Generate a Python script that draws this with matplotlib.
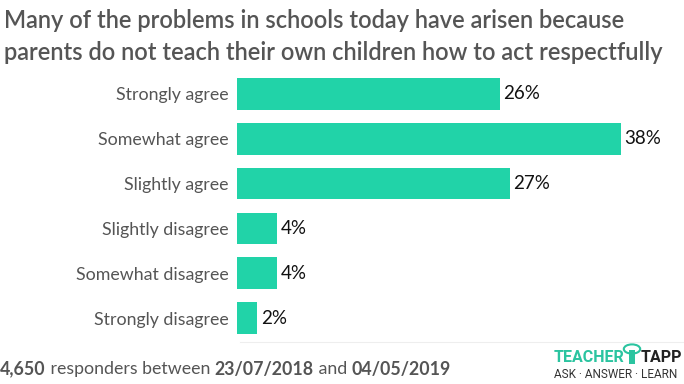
import matplotlib
matplotlib.use("Agg")
import matplotlib.pyplot as plt

# Chart data
categories = ["Strongly agree", "Somewhat agree", "Slightly agree",
              "Slightly disagree", "Somewhat disagree", "Strongly disagree"]
values = [26, 38, 27, 4, 4, 2]
value_labels = ["26%", "38%", "27%", "4%", "4%", "2%"]

title_lines = ["Many of the problems in schools today have arisen because",
               "parents do not teach their own children how to act respectfully"]
footer_parts = [("4,650", "bold"), (" responders between ", "normal"),
                ("23/07/2018", "bold"), (" and ", "normal"), ("04/05/2019", "bold")]

bar_color = "#21d3a8"
grey = "#555555"

plt.rcParams["font.family"] = ["Lato", "DejaVu Sans"]

fig = plt.figure(figsize=(6.84, 3.84), dpi=100)
W, H = 684, 384

# Title
for i, line in enumerate(title_lines):
    fig.text(4 / W, 1 - (21 + i * 31) / H, line, fontsize=17, color=grey,
             fontweight="semibold", va="center", ha="left")

# Bars
ax = fig.add_axes([237 / W, 1 - 340.5 / H, 1 - 237 / W, 269 / H])
y = list(range(len(categories)))
ax.barh(y, values, height=0.71, color=bar_color)
ax.set_xlim(0, 447 / 10.1)
ax.set_ylim(len(categories) - 0.5, -0.5)
ax.set_yticks(y)
ax.set_yticklabels(categories, fontsize=12.8, color=grey)
ax.tick_params(axis="y", length=0, pad=6)
ax.set_xticks([])
for s in ax.spines.values():
    s.set_visible(False)
for yi, v, lab in zip(y, values, value_labels):
    ax.text(v + 0.35, yi, lab, va="center", ha="left", fontsize=13.5, color="#111111")

# Footer
x = 0
r = fig.canvas.get_renderer()
for txt, w in footer_parts:
    t = fig.text(x / W, 1 - 369 / H, txt, fontsize=12.8, color=grey,
                 fontweight=w, va="center", ha="left")
    bb = t.get_window_extent(renderer=r)
    x += bb.width

# Faint separator line above logo
fig.add_artist(plt.Line2D([240 / W, 1], [1 - 342 / H, 1 - 342 / H], color="#eeeeee", lw=0.8))

# Logo
fig.text(554 / W, 1 - 357 / H, "TEACHER", fontsize=11.5, fontweight="bold",
         color="#2bc4a0", va="center", ha="left", family="Roboto")
fig.text(641 / W, 1 - 357 / H, "TAPP", fontsize=11.5, fontweight="bold",
         color="#222222", va="center", ha="left", family="Roboto")
fig.text(554 / W, 1 - 374 / H, "ASK · ANSWER · LEARN", fontsize=8.5,
         color="#333333", va="center", ha="left", family="Roboto")
fig.patches.append(matplotlib.patches.Circle((632 / W, 1 - 349 / H), 0.012,
                   transform=fig.transFigure, facecolor="none",
                   edgecolor="#2bc4a0", lw=1.5))
fig.patches.append(matplotlib.patches.Rectangle((629 / W, 1 - 364 / H), 6 / W, 14 / H,
                   transform=fig.transFigure, facecolor="#2bc4a0", edgecolor="none"))

fig.savefig("out.png", dpi=100, facecolor="white")
